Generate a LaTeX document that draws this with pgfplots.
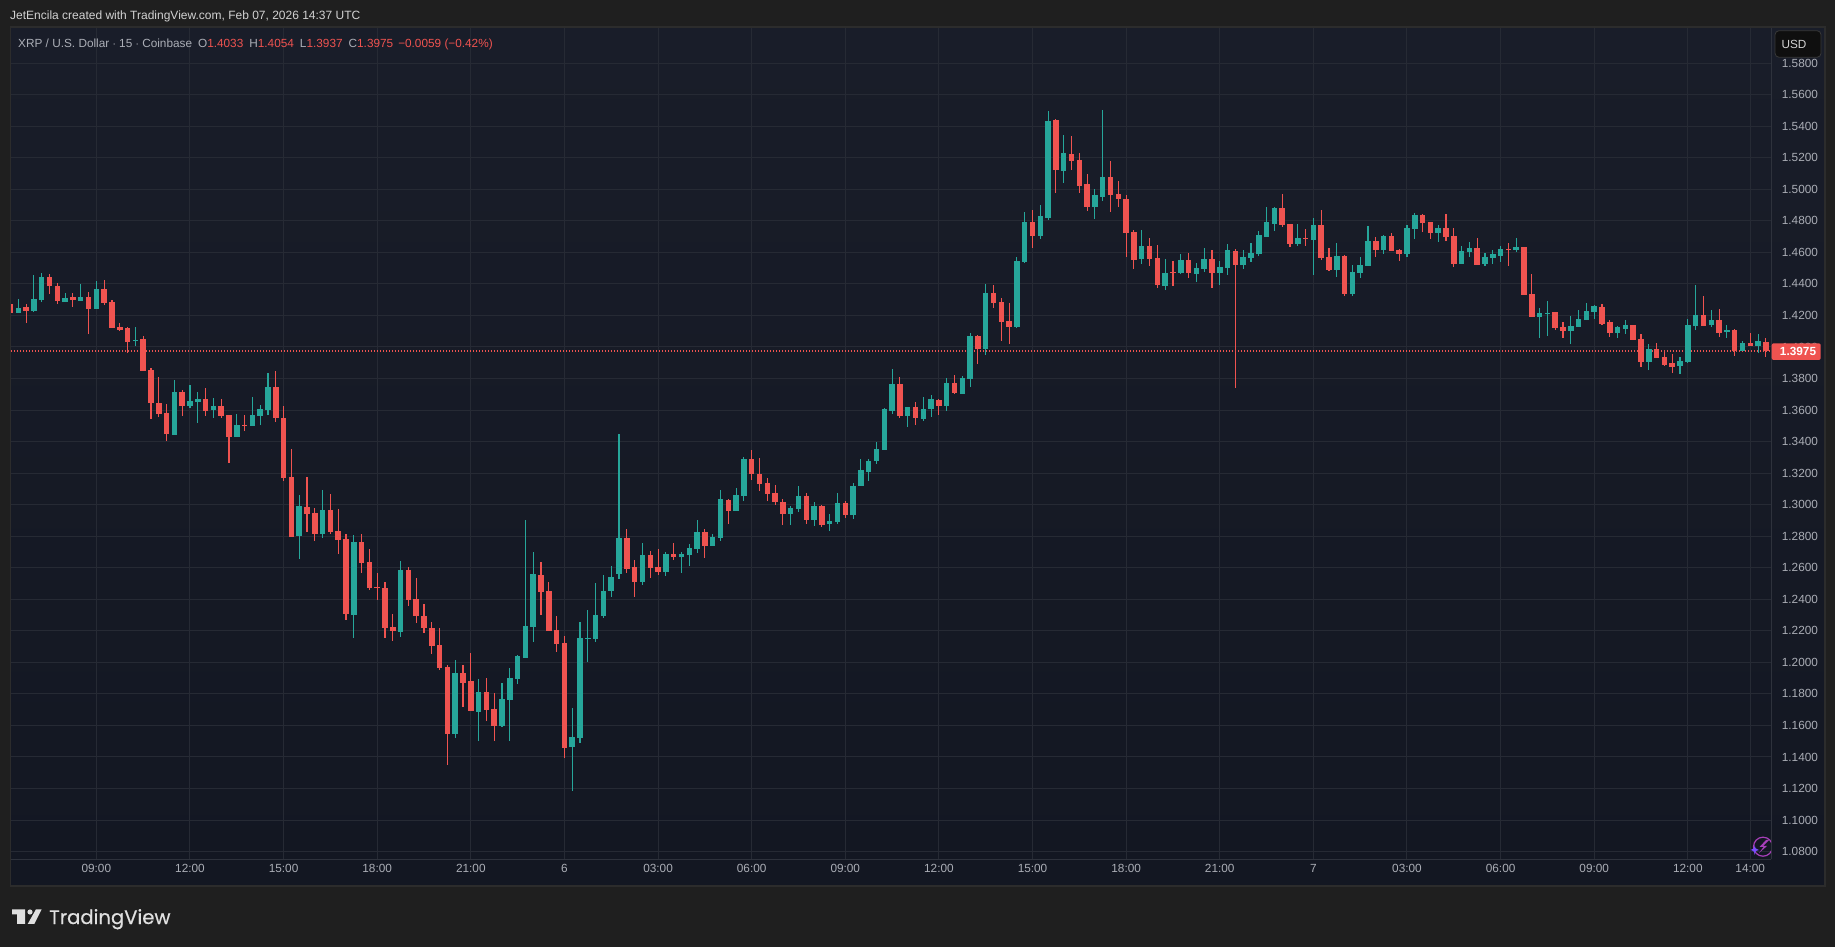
\documentclass[border=0pt]{standalone}
\usepackage{fontspec}
\setmainfont{Liberation Sans}
\newfontfamily\tvlogo{Poppins}[FakeBold=0.5]
\usepackage{pgfplots}
\usepackage{pgfplotstable}
\pgfplotsset{compat=1.18}
\definecolor{cUp}{HTML}{26A69A}
\definecolor{cDown}{HTML}{EF5350}
\definecolor{cBg}{HTML}{1F1F1F}
\definecolor{cBorder}{HTML}{2C2C2C}
\definecolor{cGrid}{HTML}{262A34}
\definecolor{cAxis}{HTML}{2E323C}
\definecolor{cText}{HTML}{ABAEB6}
\definecolor{cTop}{HTML}{191D29}
\definecolor{cBot}{HTML}{131722}
\definecolor{cBtn}{HTML}{0F0F0F}
\definecolor{cBtnLine}{HTML}{383838}
\definecolor{cStar}{HTML}{7A4DFF}
\definecolor{cBolt}{HTML}{A63FB8}
\definecolor{cHead}{HTML}{D2D2D2}
\definecolor{cLogo}{HTML}{E0E0E0}
\pgfplotstableread{
x o h l c
1 1.4216 1.4304 1.4216 1.4247
3 1.4228 1.4456 1.4222 1.4304
4 1.4298 1.4469 1.4285 1.4444
7 1.4285 1.4342 1.4285 1.4311
9 1.4292 1.4399 1.4292 1.4317
11 1.4241 1.4418 1.4241 1.4368
16 1.4038 1.4127 1.4006 1.4044
21 1.3442 1.3791 1.3442 1.3715
23 1.3626 1.3759 1.3613 1.3658
24 1.3651 1.3715 1.3518 1.3670
26 1.3601 1.3677 1.3550 1.3626
29 1.3429 1.3575 1.3429 1.3505
31 1.3499 1.3683 1.3499 1.3569
32 1.3563 1.3632 1.3505 1.3607
33 1.3601 1.3835 1.3569 1.3746
37 1.2803 1.3063 1.2657 1.2993
40 1.2815 1.3094 1.2790 1.2967
44 1.2302 1.2809 1.2156 1.2765
50 1.2194 1.2644 1.2162 1.2587
57 1.1547 1.2016 1.1522 1.1934
60 1.1687 1.1896 1.1503 1.1814
63 1.1598 1.1871 1.1592 1.1769
64 1.1763 1.1966 1.1503 1.1902
65 1.1896 1.2048 1.1864 1.2042
66 1.2029 1.2904 1.2029 1.2232
67 1.2226 1.2701 1.2131 1.2562
72 1.1465 1.1712 1.1186 1.1528
73 1.1522 1.2257 1.1490 1.2156
74 1.2150 1.2333 1.2004 1.2156
75 1.2150 1.2505 1.2131 1.2302
76 1.2295 1.2555 1.2283 1.2454
77 1.2454 1.2612 1.2416 1.2543
78 1.2562 1.3450 1.2530 1.2790
81 1.2511 1.2758 1.2492 1.2682
84 1.2574 1.2701 1.2549 1.2688
86 1.2669 1.2701 1.2568 1.2688
87 1.2682 1.2752 1.2612 1.2726
88 1.2720 1.2904 1.2695 1.2828
90 1.2739 1.2815 1.2739 1.2796
91 1.2790 1.3094 1.2771 1.3037
93 1.2961 1.3107 1.2961 1.3063
94 1.3057 1.3305 1.3026 1.3292
100 1.2943 1.2994 1.2873 1.2981
101 1.2975 1.3121 1.2956 1.3057
103 1.2905 1.3019 1.2867 1.2994
105 1.2880 1.2943 1.2835 1.2899
106 1.2892 1.3076 1.2880 1.3013
108 1.2937 1.3140 1.2912 1.3121
109 1.3121 1.3292 1.3121 1.3222
110 1.3209 1.3292 1.3152 1.3279
111 1.3279 1.3400 1.3260 1.3355
112 1.3349 1.3615 1.3349 1.3609
113 1.3596 1.3863 1.3577 1.3767
115 1.3565 1.3622 1.3495 1.3622
117 1.3546 1.3685 1.3533 1.3609
118 1.3609 1.3698 1.3558 1.3672
120 1.3628 1.3805 1.3596 1.3774
122 1.3704 1.3818 1.3704 1.3805
123 1.3799 1.4091 1.3748 1.4072
125 1.3988 1.4400 1.3950 1.4343
129 1.4128 1.4571 1.4121 1.4546
130 1.4540 1.4857 1.4533 1.4793
132 1.4705 1.4901 1.4686 1.4831
133 1.4819 1.5497 1.4806 1.5434
135 1.5117 1.5345 1.5041 1.5231
139 1.4888 1.5003 1.4812 1.4965
140 1.4952 1.5503 1.4927 1.5079
145 1.4559 1.4743 1.4527 1.4641
148 1.4388 1.4559 1.4362 1.4470
150 1.4470 1.4590 1.4464 1.4552
152 1.4464 1.4533 1.4413 1.4502
153 1.4495 1.4629 1.4476 1.4559
155 1.4470 1.4546 1.4394 1.4508
156 1.4502 1.4654 1.4457 1.4616
158 1.4521 1.4616 1.4495 1.4571
159 1.4565 1.4660 1.4540 1.4597
160 1.4590 1.4736 1.4578 1.4711
161 1.4698 1.4888 1.4698 1.4793
162 1.4781 1.4888 1.4736 1.4882
165 1.4654 1.4781 1.4641 1.4692
167 1.4679 1.4819 1.4457 1.4774
170 1.4489 1.4660 1.4445 1.4578
172 1.4337 1.4521 1.4324 1.4476
173 1.4470 1.4571 1.4438 1.4521
174 1.4514 1.4768 1.4514 1.4673
176 1.4615 1.4710 1.4590 1.4704
179 1.4590 1.4774 1.4571 1.4755
180 1.4748 1.4850 1.4685 1.4837
183 1.4723 1.4774 1.4666 1.4755
186 1.4527 1.4641 1.4527 1.4609
187 1.4603 1.4666 1.4571 1.4628
189 1.4527 1.4596 1.4514 1.4571
190 1.4565 1.4615 1.4527 1.4590
191 1.4577 1.4641 1.4539 1.4622
193 1.4615 1.4691 1.4603 1.4634
196 1.4190 1.4248 1.4057 1.4216
197 1.4210 1.4292 1.4070 1.4216
200 1.4102 1.4197 1.4019 1.4133
201 1.4127 1.4235 1.4127 1.4178
202 1.4171 1.4279 1.4171 1.4229
203 1.4222 1.4267 1.4178 1.4260
206 1.4089 1.4133 1.4057 1.4127
207 1.4114 1.4171 1.4083 1.4140
210 1.3905 1.4019 1.3854 1.3988
214 1.3880 1.3937 1.3829 1.3912
215 1.3905 1.4178 1.3899 1.4140
216 1.4133 1.4393 1.4108 1.4203
218 1.4140 1.4235 1.4127 1.4171
220 1.4095 1.4140 1.4057 1.4108
222 1.3975 1.4038 1.3975 1.4026
224 1.4007 1.4083 1.3962 1.4038
}\upcandles
\pgfplotstableread{
x o h l c
0 1.4273 1.4311 1.4159 1.4216
2 1.4254 1.4273 1.4152 1.4228
5 1.4444 1.4463 1.4336 1.4387
6 1.4387 1.4406 1.4273 1.4292
8 1.4317 1.4342 1.4254 1.4298
10 1.4317 1.4349 1.4082 1.4241
12 1.4368 1.4425 1.4266 1.4279
13 1.4285 1.4298 1.4120 1.4120
14 1.4127 1.4152 1.4101 1.4108
15 1.4120 1.4127 1.3962 1.4032
17 1.4051 1.4070 1.3848 1.3848
18 1.3854 1.3867 1.3544 1.3645
19 1.3645 1.3810 1.3556 1.3575
20 1.3582 1.3639 1.3404 1.3448
22 1.3715 1.3727 1.3563 1.3626
25 1.3670 1.3740 1.3563 1.3594
27 1.3626 1.3670 1.3550 1.3563
28 1.3569 1.3569 1.3265 1.3429
30 1.3505 1.3569 1.3467 1.3499
34 1.3746 1.3848 1.3525 1.3550
35 1.3550 1.3626 1.3150 1.3169
36 1.3177 1.3353 1.2796 1.2796
38 1.2986 1.3177 1.2828 1.2942
39 1.2948 1.2980 1.2771 1.2815
41 1.2967 1.3069 1.2815 1.2828
42 1.2834 1.2974 1.2688 1.2777
43 1.2784 1.2815 1.2270 1.2308
45 1.2765 1.2815 1.2568 1.2631
46 1.2638 1.2720 1.2460 1.2473
47 1.2479 1.2568 1.2397 1.2473
48 1.2473 1.2511 1.2156 1.2219
49 1.2226 1.2308 1.2137 1.2200
51 1.2587 1.2606 1.2359 1.2397
52 1.2403 1.2536 1.2251 1.2295
53 1.2295 1.2371 1.2188 1.2219
54 1.2219 1.2257 1.2054 1.2105
55 1.2112 1.2219 1.1953 1.1966
56 1.1972 1.1985 1.1351 1.1547
58 1.1934 1.1985 1.1718 1.1871
59 1.1883 1.2061 1.1693 1.1693
61 1.1814 1.1902 1.1630 1.1699
62 1.1706 1.1807 1.1503 1.1598
68 1.2555 1.2638 1.2302 1.2448
69 1.2454 1.2511 1.2200 1.2200
70 1.2207 1.2295 1.2067 1.2118
71 1.2124 1.2169 1.1395 1.1458
79 1.2790 1.2847 1.2568 1.2593
80 1.2606 1.2650 1.2416 1.2511
82 1.2682 1.2707 1.2536 1.2600
83 1.2606 1.2720 1.2555 1.2574
85 1.2688 1.2758 1.2650 1.2669
89 1.2828 1.2847 1.2663 1.2739
92 1.3031 1.3037 1.2879 1.2961
95 1.3292 1.3349 1.3159 1.3197
96 1.3197 1.3298 1.3089 1.3133
97 1.3140 1.3171 1.3026 1.3070
98 1.3076 1.3127 1.3000 1.3019
99 1.3019 1.3038 1.2873 1.2943
102 1.3057 1.3076 1.2880 1.2905
104 1.2994 1.3000 1.2861 1.2873
107 1.3013 1.3026 1.2918 1.2937
114 1.3767 1.3812 1.3552 1.3565
116 1.3622 1.3653 1.3507 1.3552
119 1.3666 1.3672 1.3571 1.3628
121 1.3774 1.3824 1.3704 1.3710
124 1.4072 1.4078 1.3894 1.3989
126 1.4343 1.4394 1.4248 1.4280
127 1.4286 1.4312 1.4039 1.4159
128 1.4166 1.4280 1.4020 1.4128
131 1.4793 1.4869 1.4629 1.4705
134 1.5440 1.5446 1.4977 1.5123
136 1.5224 1.5339 1.5123 1.5180
137 1.5186 1.5231 1.4977 1.5022
138 1.5034 1.5098 1.4863 1.4888
141 1.5079 1.5180 1.4857 1.4965
142 1.4971 1.5053 1.4888 1.4939
143 1.4939 1.4965 1.4571 1.4724
144 1.4730 1.4743 1.4495 1.4552
146 1.4641 1.4692 1.4514 1.4559
147 1.4565 1.4648 1.4375 1.4394
149 1.4476 1.4546 1.4388 1.4470
151 1.4552 1.4597 1.4438 1.4470
154 1.4559 1.4616 1.4375 1.4470
157 1.4610 1.4622 1.3741 1.4521
163 1.4882 1.4971 1.4762 1.4774
164 1.4781 1.4781 1.4635 1.4654
166 1.4692 1.4749 1.4641 1.4686
168 1.4774 1.4869 1.4552 1.4565
169 1.4571 1.4629 1.4483 1.4489
171 1.4578 1.4584 1.4324 1.4337
175 1.4673 1.4698 1.4571 1.4616
177 1.4705 1.4724 1.4610 1.4610
178 1.4615 1.4622 1.4546 1.4590
181 1.4837 1.4843 1.4729 1.4786
182 1.4793 1.4793 1.4685 1.4723
184 1.4755 1.4843 1.4672 1.4698
185 1.4704 1.4755 1.4507 1.4527
188 1.4628 1.4691 1.4520 1.4520
192 1.4622 1.4660 1.4514 1.4615
194 1.4634 1.4634 1.4330 1.4330
195 1.4336 1.4463 1.4190 1.4190
198 1.4222 1.4222 1.4108 1.4121
199 1.4127 1.4159 1.4057 1.4102
204 1.4254 1.4273 1.4140 1.4146
205 1.4159 1.4171 1.4064 1.4089
208 1.4140 1.4140 1.4045 1.4045
209 1.4051 1.4083 1.3873 1.3905
211 1.3988 1.4026 1.3931 1.3931
212 1.3937 1.3969 1.3880 1.3886
213 1.3899 1.3956 1.3835 1.3873
217 1.4203 1.4324 1.4133 1.4133
219 1.4171 1.4241 1.4064 1.4089
221 1.4108 1.4114 1.3943 1.3975
223 1.4026 1.4089 1.4007 1.4007
225 1.4033 1.4054 1.3937 1.3975
}\downcandles
\pgfplotsset{
  cwick/.style={no markers,draw=none,forget plot,error bars/.cd,y dir=plus,y explicit,error mark=none,error bar style={draw=#1,line width=1.1pt,solid}},
  cbody/.style={no markers,draw=none,forget plot,error bars/.cd,y dir=plus,y explicit,error mark=none,error bar style={draw=#1,line width=5.5pt,solid}},
}
\begin{document}
\begin{tikzpicture}[x=1pt,y=1pt]
\fill[cBg] (0,0) rectangle (1835,947);
\shade[top color=cTop,bottom color=cBot,draw=cBorder,line width=1.5pt] (10.5,920) rectangle (1825,61);
\begin{axis}[
  at={(11pt,87.7pt)},anchor=south west,
  scale only axis,width=1760.3pt,height=831.3pt,
  xmin=0.06,xmax=225.7,ymin=1.0751,ymax=1.6023,
  xtick={11,23,35,47,59,71,83,95,107,119,131,143,155,167,179,191,203,215,223},
  xticklabels={09:00,12:00,15:00,18:00,21:00,6,03:00,06:00,09:00,12:00,15:00,18:00,21:00,7,03:00,06:00,09:00,12:00,14:00},
  ytick={1.08,1.10,1.12,1.14,1.16,1.18,1.20,1.22,1.24,1.26,1.28,1.30,1.32,1.34,1.36,1.38,1.40,1.42,1.44,1.46,1.48,1.50,1.52,1.54,1.56,1.58},
  yticklabel pos=right,
  axis x line*=bottom, axis y line*=right,
  major tick length=0pt,
  grid=major,
  grid style={color=cGrid,line width=1pt},
  axis line style={color=cAxis,line width=1pt,-},
  tick style={draw=none},
  /pgf/number format/.cd,fixed,fixed zerofill,precision=4,assume math mode=true,1000 sep={},
  /pgfplots/.cd,
  ticklabel style={font=\fontsize{11.8}{14}\selectfont,text=cText},
  yticklabel style={anchor=west,xshift=7pt},
  xticklabel style={anchor=center,yshift=-9pt},
  clip=true,
]
\addplot[color=cDown,line width=1.3pt,dash pattern=on 1.4pt off 1.6pt,forget plot] coordinates {(0.06,1.3975)(225.7,1.3975)};
\addplot[cwick=cUp] table[x=x,y=l,y error plus expr=\thisrow{h}-\thisrow{l}] {\upcandles};
\addplot[cwick=cDown] table[x=x,y=l,y error plus expr=\thisrow{h}-\thisrow{l}] {\downcandles};
\addplot[cbody=cUp] table[x=x,y=o,y error plus expr=\thisrow{c}-\thisrow{o}] {\upcandles};
\addplot[cbody=cDown] table[x=x,y=c,y error plus expr=\thisrow{o}-\thisrow{c}] {\downcandles};
\end{axis}
% header
\node[anchor=west,inner sep=0pt,text=cHead,font=\fontsize{12}{14}\selectfont] at (10,931) {JetEncila created with TradingView.com, Feb 07, 2026 14:37 UTC};
\node[anchor=west,inner sep=0pt,font=\fontsize{11.8}{14}\selectfont,text=cText] at (18,902.4)
 {XRP / U.S. Dollar $\cdot$ 15 $\cdot$ Coinbase\hspace{6pt}O\textcolor{cDown}{1.4033}\hspace{6pt}H\textcolor{cDown}{1.4054}\hspace{6pt}L\textcolor{cDown}{1.3937}\hspace{6pt}C\textcolor{cDown}{1.3975}\hspace{5pt}\textcolor{cDown}{−0.0059 (−0.42\%)}};
% USD
\draw[fill=cBtn,draw=cBtnLine,rounded corners=4pt,line width=.8pt] (1775,916.3) rectangle (1821,889.7);
\node[text=cHead,font=\fontsize{11.8}{14}\selectfont,inner sep=0pt] at (1794,902.7) {USD};
% price tag
\fill[cDown,rounded corners=2pt] (1771.7,603.7) rectangle (1820.7,587);
\node[text=white,font=\bfseries\fontsize{11.8}{14}\selectfont,inner sep=0pt] at (1798,595.3) {1.3975};
% icon
\begin{scope}
\clip (1740,80) rectangle (1771,120);
\draw[color=cBolt,line width=1.2pt] (1763,100.3) circle (9.5);
\end{scope}
\fill[cBolt] (1766,107) -- (1759.5,100) -- (1763.5,100) -- (1759,94) -- (1767,101) -- (1763,101) -- (1769,107) -- cycle;
\fill[cStar] (1754.7,102) .. controls (1755.3,98.5) .. (1759,97) .. controls (1755.3,96) .. (1754.7,92) .. controls (1754,96) .. (1750.5,97) .. controls (1754,98.5) .. cycle;
% logo
\fill[cLogo] (12,37.7) -- (25,37.7) -- (25,23) -- (17,23) -- (17,32.7) -- (12,32.7) -- cycle;
\fill[cLogo] (30,35) circle (2.6);
\fill[cLogo] (36,37.7) -- (41.7,37.7) -- (34.3,23) -- (27.7,23) -- cycle;
\node[anchor=base west,inner sep=0pt,text=cLogo,font=\tvlogo\fontsize{19.6}{24}\selectfont] at (49,23) {TradingView};
\end{tikzpicture}
\end{document}
